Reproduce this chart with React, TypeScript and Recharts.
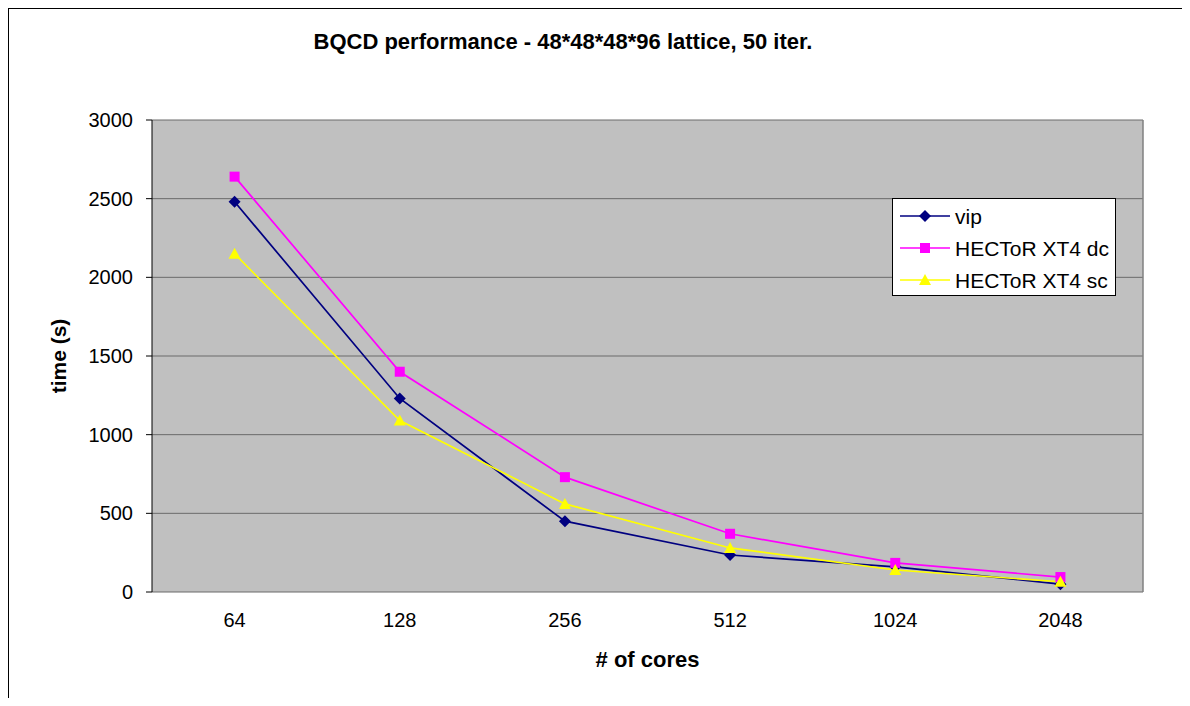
import {
  CartesianGrid,
  Label,
  Legend,
  Line,
  LineChart,
  ReferenceLine,
  XAxis,
  YAxis,
} from 'recharts'

const cores = ['64', '128', '256', '512', '1024', '2048']
const vip = [2480, 1230, 450, 235, 160, 50]
const xt4dc = [2640, 1400, 730, 370, 185, 95]
const xt4sc = [2150, 1090, 560, 280, 140, 65]
const yTicks = [0, 500, 1000, 1500, 2000, 2500, 3000]

const FONT = '"Liberation Sans", Arial, Helvetica, sans-serif'

// x is the category slot centre so the boundary ticks can sit between categories (Excel style)
const chartData = cores.map((c, i) => ({
  x: i + 0.5,
  cores: c,
  vip: vip[i],
  dc: xt4dc[i],
  sc: xt4sc[i],
}))
const labelTicks = chartData.map((d) => d.x)
const boundaryTicks = Array.from({ length: cores.length + 1 }, (_, i) => i)

const series = [
  { key: 'vip', name: 'vip', color: '#000080', marker: 'diamond' },
  { key: 'dc', name: 'HECToR XT4 dc', color: '#FF00FF', marker: 'square' },
  { key: 'sc', name: 'HECToR XT4 sc', color: '#FFFF00', marker: 'triangle' },
]

const Marker = ({ type, cx, cy, color }: { type: string; cx: number; cy: number; color: string }) => {
  if (type === 'diamond')
    return <path d={`M${cx},${cy - 6}L${cx + 6},${cy}L${cx},${cy + 6}L${cx - 6},${cy}Z`} fill={color} />
  if (type === 'square') return <rect x={cx - 5} y={cy - 5} width={10} height={10} fill={color} />
  return <path d={`M${cx},${cy - 6}L${cx + 6},${cy + 5}L${cx - 6},${cy + 5}Z`} fill={color} />
}

// legend keeps the series order (recharts sorts payload by name otherwise)
const LegendBox = () => (
  <div
    style={{
      boxSizing: 'border-box',
      width: 224,
      height: 98,
      border: '1px solid #000',
      background: '#fff',
      paddingTop: 1,
      fontFamily: FONT,
      fontSize: 21,
    }}
  >
    {series.map((s) => (
      <div key={s.key} style={{ height: 32, display: 'flex', alignItems: 'center' }}>
        <svg width={62} height={20} style={{ flex: 'none' }}>
          <line x1={7} x2={57} y1={10} y2={10} stroke={s.color} strokeWidth={1.5} />
          <Marker type={s.marker} cx={32} cy={10} color={s.color} />
        </svg>
        <span style={{ lineHeight: '21px' }}>{s.name}</span>
      </div>
    ))}
  </div>
)

export default function App() {
  return (
    <div
      style={{
        position: 'relative',
        margin: -8,
        width: 1190,
        height: 706,
        overflow: 'hidden',
        fontFamily: FONT,
      }}
    >
      {/* chart frame: the page clips the 8px body margin, so the edge sits just inside it */}
      <div
        style={{
          position: 'absolute',
          left: 8,
          top: 8,
          width: 1200,
          height: 720,
          borderLeft: '1.5px solid #000',
          borderTop: '1.5px solid #000',
        }}
      />
      <div
        style={{
          position: 'absolute',
          left: 213,
          width: 700,
          top: 31,
          textAlign: 'center',
          fontWeight: 'bold',
          fontSize: 22,
          lineHeight: '22px',
          zIndex: 2,
        }}
      >
        BQCD performance - 48*48*48*96 lattice, 50 iter.
      </div>
      <div style={{ position: 'absolute', left: 8, top: 7 }}>
        <LineChart width={1170} height={690} data={chartData} margin={{ top: 113, right: 35, bottom: 0, left: 0 }}>
          <CartesianGrid
            xAxisId="cat"
            vertical={false}
            stroke="#6a6a6a"
            fill="#C0C0C0"
            fillOpacity={1}
          />
          <XAxis
            xAxisId="marks"
            type="number"
            dataKey="x"
            domain={[0, cores.length]}
            ticks={boundaryTicks}
            tick={false}
            tickSize={6}
            height={0}
            axisLine={{ stroke: '#000' }}
            tickLine={{ stroke: '#000' }}
          />
          <XAxis
            xAxisId="cat"
            type="number"
            dataKey="x"
            domain={[0, cores.length]}
            ticks={labelTicks}
            tickFormatter={(v: number) => cores[Math.floor(v)]}
            axisLine={false}
            tickLine={false}
            tickSize={0}
            tickMargin={21}
            height={105}
            tick={{ fontSize: 20, fill: '#000', fontFamily: FONT }}
          >
            <Label
              content={({ viewBox }: any) => (
                <text
                  x={viewBox.x + viewBox.width / 2}
                  y={viewBox.y + 75}
                  textAnchor="middle"
                  fontSize={22}
                  fontWeight="bold"
                  fontFamily={FONT}
                  fill="#000"
                >
                  # of cores
                </text>
              )}
            />
          </XAxis>
          <YAxis
            type="number"
            domain={[0, 3000]}
            ticks={yTicks}
            width={144}
            tickSize={6}
            tickMargin={13}
            axisLine={{ stroke: '#000' }}
            tickLine={{ stroke: '#000' }}
            tick={{ fontSize: 20, fill: '#000', fontFamily: FONT }}
          >
            <Label
              content={({ viewBox }: any) => {
                const cy = viewBox.y + viewBox.height / 2
                return (
                  <text
                    x={58}
                    y={cy}
                    transform={`rotate(-90, 58, ${cy})`}
                    textAnchor="middle"
                    fontSize={21}
                    fontWeight="bold"
                    fontFamily={FONT}
                    fill="#000"
                  >
                    time (s)
                  </text>
                )
              }}
            />
          </YAxis>
          <ReferenceLine xAxisId="cat" x={cores.length} stroke="#808080" strokeWidth={1.5} />
          {series.map((s) => (
            <Line
              key={s.key}
              xAxisId="cat"
              dataKey={s.key}
              name={s.name}
              stroke={s.color}
              strokeWidth={1.7}
              isAnimationActive={false}
              dot={(p: any) => (
                <Marker key={`${s.key}-${p.index}`} type={s.marker} cx={p.cx} cy={p.cy} color={s.color} />
              )}
              activeDot={false}
            />
          ))}
          <Legend
            layout="vertical"
            align="center"
            verticalAlign="middle"
            content={<LegendBox />}
            wrapperStyle={{ left: 884, top: 191, width: 224, height: 98 }}
          />
        </LineChart>
      </div>
    </div>
  )
}
